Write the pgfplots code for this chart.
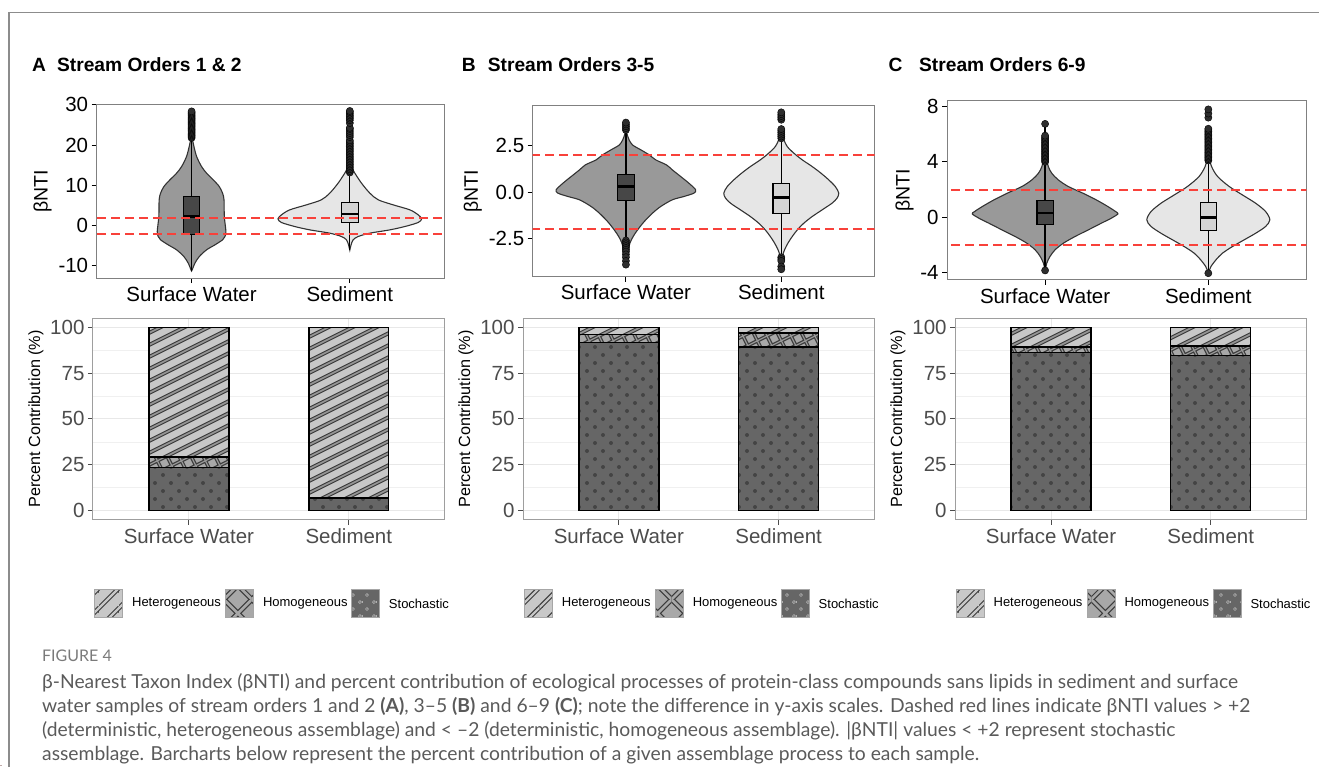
\documentclass[border=0pt]{standalone}
\usepackage{fontspec}
\setmainfont{Liberation Sans}
\newfontfamily\capfont{Lato}
\usepackage{pgfplots}
\pgfplotsset{compat=1.18}
\usepackage{pgfplotstable}
\usetikzlibrary{patterns}

\definecolor{vsw}{HTML}{999999}
\definecolor{vsed}{HTML}{E6E6E6}
\definecolor{bsw}{HTML}{474747}
\definecolor{bsed}{HTML}{D4D4D4}
\definecolor{hetfill}{HTML}{C8C8C8}
\definecolor{hetdark}{HTML}{3C3C3C}
\definecolor{hetstripe}{HTML}{959595}
\definecolor{homfill}{HTML}{A8A8A8}
\definecolor{stofill}{HTML}{666666}
\definecolor{dotc}{HTML}{444444}
\definecolor{redl}{RGB}{248,65,58}
\definecolor{capgray}{HTML}{5A5A5A}
\definecolor{figgray}{HTML}{7A7A7A}
\definecolor{framegray}{HTML}{8C8C8C}
\definecolor{outc}{HTML}{2E2E2E}

% ---- inherently coloured patterns (background included)
\pgfdeclarepatterninherentlycolored{hetpat}
 {\pgfpointorigin}{\pgfqpoint{24pt}{12pt}}{\pgfqpoint{24pt}{12pt}}
 {\pgfsetfillcolor{hetfill}
  \pgfpathrectangle{\pgfqpoint{-1pt}{-1pt}}{\pgfqpoint{26pt}{14pt}}\pgfusepath{fill}
  \pgfsetlinewidth{4pt}\pgfsetstrokecolor{hetdark}
  \pgfpathmoveto{\pgfqpoint{-2pt}{-13pt}}\pgfpathlineto{\pgfqpoint{26pt}{1pt}}
  \pgfpathmoveto{\pgfqpoint{-2pt}{-1pt}}\pgfpathlineto{\pgfqpoint{26pt}{13pt}}
  \pgfpathmoveto{\pgfqpoint{-2pt}{11pt}}\pgfpathlineto{\pgfqpoint{26pt}{25pt}}
  \pgfusepath{stroke}
  \pgfsetlinewidth{1.6pt}\pgfsetstrokecolor{hetstripe}
  \pgfpathmoveto{\pgfqpoint{-2pt}{-13pt}}\pgfpathlineto{\pgfqpoint{26pt}{1pt}}
  \pgfpathmoveto{\pgfqpoint{-2pt}{-1pt}}\pgfpathlineto{\pgfqpoint{26pt}{13pt}}
  \pgfpathmoveto{\pgfqpoint{-2pt}{11pt}}\pgfpathlineto{\pgfqpoint{26pt}{25pt}}
  \pgfusepath{stroke}}
\pgfdeclarepatterninherentlycolored{hompat}
 {\pgfpointorigin}{\pgfqpoint{24pt}{24pt}}{\pgfqpoint{24pt}{24pt}}
 {\pgfsetfillcolor{homfill}
  \pgfpathrectangle{\pgfqpoint{-1pt}{-1pt}}{\pgfqpoint{26pt}{26pt}}\pgfusepath{fill}
  \pgfsetlinewidth{3.6pt}\pgfsetstrokecolor{hetdark}
  \pgfpathmoveto{\pgfqpoint{-2pt}{-13pt}}\pgfpathlineto{\pgfqpoint{26pt}{1pt}}
  \pgfpathmoveto{\pgfqpoint{-2pt}{-1pt}}\pgfpathlineto{\pgfqpoint{26pt}{13pt}}
  \pgfpathmoveto{\pgfqpoint{-2pt}{11pt}}\pgfpathlineto{\pgfqpoint{26pt}{25pt}}
  \pgfpathmoveto{\pgfqpoint{-2pt}{23pt}}\pgfpathlineto{\pgfqpoint{26pt}{37pt}}
  \pgfpathmoveto{\pgfqpoint{1pt}{-2pt}}\pgfpathlineto{\pgfqpoint{-13pt}{26pt}}
  \pgfpathmoveto{\pgfqpoint{13pt}{-2pt}}\pgfpathlineto{\pgfqpoint{-1pt}{26pt}}
  \pgfpathmoveto{\pgfqpoint{25pt}{-2pt}}\pgfpathlineto{\pgfqpoint{11pt}{26pt}}
  \pgfpathmoveto{\pgfqpoint{37pt}{-2pt}}\pgfpathlineto{\pgfqpoint{23pt}{26pt}}
  \pgfusepath{stroke}
  \pgfsetlinewidth{1.3pt}\pgfsetstrokecolor{hetstripe}
  \pgfpathmoveto{\pgfqpoint{-2pt}{-13pt}}\pgfpathlineto{\pgfqpoint{26pt}{1pt}}
  \pgfpathmoveto{\pgfqpoint{-2pt}{-1pt}}\pgfpathlineto{\pgfqpoint{26pt}{13pt}}
  \pgfpathmoveto{\pgfqpoint{-2pt}{11pt}}\pgfpathlineto{\pgfqpoint{26pt}{25pt}}
  \pgfpathmoveto{\pgfqpoint{-2pt}{23pt}}\pgfpathlineto{\pgfqpoint{26pt}{37pt}}
  \pgfpathmoveto{\pgfqpoint{1pt}{-2pt}}\pgfpathlineto{\pgfqpoint{-13pt}{26pt}}
  \pgfpathmoveto{\pgfqpoint{13pt}{-2pt}}\pgfpathlineto{\pgfqpoint{-1pt}{26pt}}
  \pgfpathmoveto{\pgfqpoint{25pt}{-2pt}}\pgfpathlineto{\pgfqpoint{11pt}{26pt}}
  \pgfpathmoveto{\pgfqpoint{37pt}{-2pt}}\pgfpathlineto{\pgfqpoint{23pt}{26pt}}
  \pgfusepath{stroke}}
\pgfdeclarepatterninherentlycolored{stopat}
 {\pgfpointorigin}{\pgfqpoint{16pt}{16pt}}{\pgfqpoint{16pt}{16pt}}
 {\pgfsetfillcolor{stofill}
  \pgfpathrectangle{\pgfqpoint{-1pt}{-1pt}}{\pgfqpoint{18pt}{18pt}}\pgfusepath{fill}
  \pgfsetfillcolor{dotc}
  \pgfpathcircle{\pgfqpoint{4pt}{5pt}}{2pt}
  \pgfpathcircle{\pgfqpoint{12pt}{13pt}}{2pt}
  \pgfusepath{fill}}
% red dashes (filled through a thin band)
\pgfdeclarepatterninherentlycolored{reddash}
 {\pgfpointorigin}{\pgfqpoint{14pt}{14pt}}{\pgfqpoint{14pt}{14pt}}
 {\pgfsetfillcolor{redl}
  \pgfpathrectangle{\pgfqpoint{0pt}{0pt}}{\pgfqpoint{9pt}{14pt}}\pgfusepath{fill}}
% legend keys
\pgfdeclarepatterninherentlycolored{hetkey}
 {\pgfpointorigin}{\pgfqpoint{20pt}{20pt}}{\pgfqpoint{20pt}{20pt}}
 {\pgfsetlinewidth{4.4pt}\pgfsetstrokecolor{hetdark}
  \pgfpathmoveto{\pgfqpoint{-2pt}{-22pt}}\pgfpathlineto{\pgfqpoint{22pt}{2pt}}
  \pgfpathmoveto{\pgfqpoint{-2pt}{-2pt}}\pgfpathlineto{\pgfqpoint{22pt}{22pt}}
  \pgfpathmoveto{\pgfqpoint{-2pt}{18pt}}\pgfpathlineto{\pgfqpoint{22pt}{42pt}}
  \pgfusepath{stroke}
  \pgfsetlinewidth{2.2pt}\pgfsetstrokecolor{hetfill}
  \pgfpathmoveto{\pgfqpoint{-2pt}{-22pt}}\pgfpathlineto{\pgfqpoint{22pt}{2pt}}
  \pgfpathmoveto{\pgfqpoint{-2pt}{-2pt}}\pgfpathlineto{\pgfqpoint{22pt}{22pt}}
  \pgfpathmoveto{\pgfqpoint{-2pt}{18pt}}\pgfpathlineto{\pgfqpoint{22pt}{42pt}}
  \pgfusepath{stroke}}
\pgfdeclarepatterninherentlycolored{homkey}
 {\pgfpointorigin}{\pgfqpoint{28pt}{28pt}}{\pgfqpoint{28pt}{28pt}}
 {\pgfsetlinewidth{5pt}\pgfsetstrokecolor{hetdark}
  \pgfpathmoveto{\pgfqpoint{-2pt}{-2pt}}\pgfpathlineto{\pgfqpoint{30pt}{30pt}}
  \pgfpathmoveto{\pgfqpoint{-2pt}{30pt}}\pgfpathlineto{\pgfqpoint{30pt}{-2pt}}
  \pgfusepath{stroke}
  \pgfsetlinewidth{2.6pt}\pgfsetstrokecolor{homfill}
  \pgfpathmoveto{\pgfqpoint{-2pt}{-2pt}}\pgfpathlineto{\pgfqpoint{30pt}{30pt}}
  \pgfpathmoveto{\pgfqpoint{-2pt}{30pt}}\pgfpathlineto{\pgfqpoint{30pt}{-2pt}}
  \pgfusepath{stroke}}
\pgfdeclarepatterninherentlycolored{stokey}
 {\pgfpointorigin}{\pgfqpoint{14pt}{14pt}}{\pgfqpoint{14pt}{14pt}}
 {\pgfsetlinewidth{0.7pt}\pgfsetstrokecolor{black!30}
  \pgfpathcircle{\pgfqpoint{4pt}{5pt}}{1.5pt}
  \pgfpathcircle{\pgfqpoint{11pt}{12pt}}{1.5pt}
  \pgfusepath{stroke}}

% violin outlines, closed: y value, signed half width (axis units)
\pgfplotstableread{
y w
-11.3 0
-10.99 0.004
-9.34 0.021
-7.68 0.049
-6.02 0.095
-4.78 0.148
-3.54 0.196
-2.71 0.211
-1.47 0.217
2.26 0.207
6.40 0.205
8.05 0.196
9.71 0.175
11.37 0.137
13.02 0.095
14.68 0.063
17.16 0.032
19.65 0.015
21.30 0.006
21.6 0
21.30 -0.006
19.65 -0.015
17.16 -0.032
14.68 -0.063
13.02 -0.095
11.37 -0.137
9.71 -0.175
8.05 -0.196
6.40 -0.205
2.26 -0.207
-1.47 -0.217
-2.71 -0.211
-3.54 -0.196
-4.78 -0.148
-6.02 -0.095
-7.68 -0.049
-9.34 -0.021
-10.99 -0.004
}\vAsw
\pgfplotstableread{
y w
-6.1 0
-4.78 0.008
-3.54 0.021
-2.71 0.053
-1.88 0.127
-1.06 0.253
-0.23 0.348
0.77 0.432
1.68 0.454
2.67 0.432
3.91 0.38
5.16 0.274
6.40 0.18
8.05 0.127
10.54 0.074
13.02 0.032
15.0 0
13.02 -0.032
10.54 -0.074
8.05 -0.127
6.40 -0.18
5.16 -0.274
3.91 -0.38
2.67 -0.432
1.68 -0.454
0.77 -0.432
-0.23 -0.348
-1.06 -0.253
-1.88 -0.127
-2.71 -0.053
-3.54 -0.021
-4.78 -0.008
}\vAsed
\pgfplotstableread{
y w
-3.9 0
-3.82 0.002
-3.28 0.011
-2.74 0.026
-2.38 0.047
-2.03 0.075
-1.58 0.118
-1.13 0.171
-0.77 0.224
-0.41 0.299
-0.23 0.374
-0.05 0.438
0.13 0.449
0.48 0.406
0.84 0.353
1.20 0.299
1.47 0.261
1.74 0.192
2.01 0.15
2.28 0.096
2.54 0.043
2.81 0.021
3.08 0.009
3.3 0
3.08 -0.009
2.81 -0.021
2.54 -0.043
2.28 -0.096
2.01 -0.15
1.74 -0.192
1.47 -0.261
1.20 -0.299
0.84 -0.353
0.48 -0.406
0.13 -0.449
-0.05 -0.438
-0.23 -0.374
-0.41 -0.299
-0.77 -0.224
-1.13 -0.171
-1.58 -0.118
-2.03 -0.075
-2.38 -0.047
-2.74 -0.026
-3.28 -0.011
-3.82 -0.002
}\vBsw
\pgfplotstableread{
y w
-3.64 0
-3.46 0.006
-3.10 0.021
-2.74 0.043
-2.38 0.071
-2.03 0.103
-1.67 0.145
-1.31 0.199
-0.95 0.263
-0.59 0.327
-0.32 0.359
-0.05 0.37
0.30 0.348
0.66 0.306
1.02 0.256
1.38 0.199
1.74 0.135
2.10 0.081
2.46 0.038
2.81 0.017
3.17 0
2.81 -0.017
2.46 -0.038
2.10 -0.081
1.74 -0.135
1.38 -0.199
1.02 -0.256
0.66 -0.306
0.30 -0.348
-0.05 -0.37
-0.32 -0.359
-0.59 -0.327
-0.95 -0.263
-1.31 -0.199
-1.67 -0.145
-2.03 -0.103
-2.38 -0.071
-2.74 -0.043
-3.10 -0.021
-3.46 -0.006
}\vBsed
\pgfplotstableread{
y w
-3.9 0
-3.81 0.002
-3.33 0.01
-2.84 0.03
-2.36 0.061
-1.88 0.112
-1.40 0.183
-0.92 0.264
-0.43 0.345
-0.07 0.406
0.24 0.446
0.41 0.432
0.77 0.385
1.25 0.314
1.73 0.233
2.22 0.142
2.70 0.081
3.18 0.041
3.66 0.02
4.39 0.008
5.59 0.004
6.67 0
5.59 -0.004
4.39 -0.008
3.66 -0.02
3.18 -0.041
2.70 -0.081
2.22 -0.142
1.73 -0.233
1.25 -0.314
0.77 -0.385
0.41 -0.432
0.24 -0.446
-0.07 -0.406
-0.43 -0.345
-0.92 -0.264
-1.40 -0.183
-1.88 -0.112
-2.36 -0.061
-2.84 -0.03
-3.33 -0.01
-3.81 -0.002
}\vCsw
\pgfplotstableread{
y w
-4.0 0
-3.93 0.004
-3.57 0.016
-3.08 0.047
-2.60 0.087
-2.12 0.148
-1.64 0.219
-1.16 0.29
-0.67 0.351
-0.19 0.377
0.41 0.351
1.01 0.29
1.61 0.209
2.22 0.128
2.94 0.057
3.66 0.02
4.39 0.004
4.87 0
4.39 -0.004
3.66 -0.02
2.94 -0.057
2.22 -0.128
1.61 -0.209
1.01 -0.29
0.41 -0.351
-0.19 -0.377
-0.67 -0.351
-1.16 -0.29
-1.64 -0.219
-2.12 -0.148
-2.60 -0.087
-3.08 -0.047
-3.57 -0.016
-3.93 -0.004
}\vCsed

\pgfplotsset{
  violinax/.style={scale only axis, xmin=0.4, xmax=2.6, xtick={1,2},
    xticklabels={Surface Water, Sediment}, tick align=outside,
    xtick pos=lower, ytick pos=left, major tick length=5pt,
    axis line style={draw=black!50, line width=1pt},
    tick style={black, line width=1pt},
    ticklabel style={font=\fontsize{20.5}{24}\selectfont, text=black},
    ylabel={βNTI}, ylabel style={font=\fontsize{19.5}{23}\selectfont, text=black}},
  barax/.style={scale only axis, xmin=0.4, xmax=2.6, ymin=-5, ymax=105,
    xtick={1,2}, xticklabels={Surface Water, Sediment},
    ytick={0,25,50,75,100}, yticklabels={0,25,50,75,100},
    minor ytick={12.5,37.5,62.5,87.5}, minor tick length=0pt,
    ymajorgrids, xmajorgrids, yminorgrids,
    major grid style={draw=black!9, line width=1pt},
    minor grid style={draw=black!6, line width=0.6pt},
    tick align=outside, xtick pos=lower, ytick pos=left, major tick length=5pt,
    axis line style={draw=black!38, line width=1pt},
    tick style={black!70, line width=1pt},
    ticklabel style={font=\fontsize{20.5}{24}\selectfont, text=black!70},
    ylabel={Percent Contribution (\%)},
    ylabel style={font=\fontsize{16.2}{19}\selectfont, text=black},
    ybar stacked, bar width=0.5},
  stoS/.style={pattern=stopat, draw=black, line width=1.4pt},
  homS/.style={pattern=hompat, draw=black, line width=1.4pt},
  hetS/.style={pattern=hetpat, draw=black, line width=1.4pt},
  outl/.style={only marks, mark=*, mark size=3.6pt,
    mark options={fill=outc, draw=none}},
  redd/.style={draw=none, pattern=reddash},
  vout/.style={draw=black!80, line width=1.1pt, smooth},
}

\begin{document}
\begin{tikzpicture}[x=1pt,y=1pt]
\path (0,0) rectangle (1320,767);
% instantiate patterns at top level
\path[pattern=hetpat] (1,1) rectangle (1.2,1.2);
\path[pattern=hompat] (1,1) rectangle (1.2,1.2);
\path[pattern=stopat] (1,1) rectangle (1.2,1.2);
\path[pattern=reddash] (1,1) rectangle (1.2,1.2);
\draw[framegray, line width=1.5pt] (9,0) -- (9,754.5) -- (1320,754.5);

% titles
\node[anchor=base west, inner sep=0, font=\fontsize{19.2}{22}\selectfont\bfseries] at (32,695) {A};
\node[anchor=base west, inner sep=0, font=\fontsize{19.2}{22}\selectfont\bfseries] at (57,695) {Stream Orders 1 \& 2};
\node[anchor=base west, inner sep=0, font=\fontsize{19.2}{22}\selectfont\bfseries] at (462,695) {B};
\node[anchor=base west, inner sep=0, font=\fontsize{19.2}{22}\selectfont\bfseries] at (488,695) {Stream Orders 3-5};
\node[anchor=base west, inner sep=0, font=\fontsize{19.2}{22}\selectfont\bfseries] at (889,695) {C};
\node[anchor=base west, inner sep=0, font=\fontsize{19.2}{22}\selectfont\bfseries] at (919.5,695) {Stream Orders 6-9};

% ---------- violin A
\begin{axis}[violinax, at={(96.7pt,662.7pt)}, anchor=north west, width=348.3pt, height=174pt,
  ymin=-13.06, ymax=30.17, ytick={-10,0,10,20,30}, yticklabels={-10,0,10,20,30}]
\addplot[fill=vsw, vout] table[x expr=1+\thisrow{w}, y=y] {\vAsw} -- cycle;
\addplot[fill=vsed, vout] table[x expr=2+\thisrow{w}, y=y] {\vAsed} -- cycle;
\addplot[black, line width=1.3pt] coordinates {(1,-11.2) (1,21.3)};
\addplot[black, line width=1.3pt] coordinates {(2,-6.0) (2,13.0)};
\addplot[fill=bsw, draw=black, line width=1.2pt] coordinates {(0.95,-2.3) (1.05,-2.3) (1.05,7.23) (0.95,7.23)} -- cycle;
\addplot[fill=bsed, draw=black, line width=1.2pt] coordinates {(1.947,0.85) (2.053,0.85) (2.053,5.82) (1.947,5.82)} -- cycle;
\addplot[black, line width=2.6pt] coordinates {(0.95,2.26) (1.05,2.26)};
\addplot[black, line width=2.6pt] coordinates {(1.947,2.92) (2.053,2.92)};
\addplot[outl] coordinates {(1,21.8)(1,22.1)(1,22.4)(1,22.7)(1,23.0)(1,23.3)(1,23.6)(1,23.9)(1,24.2)(1,24.5)(1,24.8)(1,25.1)(1,25.4)(1,25.7)(1,26.0)(1,26.3)(1,26.6)(1,26.9)(1,27.2)(1,27.5)(1,27.8)(1,28.1)(1,28.4)};
\addplot[outl] coordinates {(2,13.2)(2,13.6)(2,14.0)(2,14.4)(2,14.8)(2,15.2)(2,15.6)(2,16.0)(2,16.4)(2,16.8)(2,17.2)(2,17.6)(2,18.0)(2,18.4)(2,18.8)(2,19.2)(2,19.6)(2,20.0)(2,20.4)(2,20.8)(2,21.2)(2,22.0)(2,22.5)(2,23.0)(2,23.5)(2,24.0)(2,24.3)(2,25.5)(2,26.2)(2,26.6)(2,27.0)(2,27.4)(2,27.8)(2,28.2)(2,28.5)};
% dashed reference lines at +2 and -2 (bands 1 pt thick)
\addplot[redd] coordinates {(0.4,1.876) (2.6,1.876) (2.6,2.124) (0.4,2.124)} -- cycle;
\addplot[redd] coordinates {(0.4,-2.124) (2.6,-2.124) (2.6,-1.876) (0.4,-1.876)} -- cycle;
\end{axis}

% ---------- violin B
\begin{axis}[violinax, at={(533pt,661.3pt)}, anchor=north west, width=342pt, height=171pt,
  ymin=-4.54, ymax=4.66, ytick={-2.5,0,2.5}, yticklabels={-2.5,0.0,2.5}]
\addplot[fill=vsw, vout] table[x expr=1+\thisrow{w}, y=y] {\vBsw} -- cycle;
\addplot[fill=vsed, vout] table[x expr=2+\thisrow{w}, y=y] {\vBsed} -- cycle;
\addplot[black, line width=1.3pt] coordinates {(1,-2.55) (1,3.2)};
\addplot[black, line width=1.3pt] coordinates {(2,-3.45) (2,2.85)};
\addplot[fill=bsw, draw=black, line width=1.2pt] coordinates {(0.947,-0.43) (1.053,-0.43) (1.053,0.97) (0.947,0.97)} -- cycle;
\addplot[fill=bsed, draw=black, line width=1.2pt] coordinates {(1.947,-1.13) (2.053,-1.13) (2.053,0.45) (1.947,0.45)} -- cycle;
\addplot[black, line width=2.6pt] coordinates {(0.947,0.30) (1.053,0.30)};
\addplot[black, line width=2.6pt] coordinates {(1.947,-0.29) (2.053,-0.29)};
\addplot[outl] coordinates {(1,3.35)(1,3.45)(1,3.55)(1,3.65)(1,3.75)(1,-2.6)(1,-2.7)(1,-2.8)(1,-2.9)(1,-3.0)(1,-3.1)(1,-3.2)(1,-3.35)(1,-3.5)(1,-3.7)(1,-3.9)};
\addplot[outl] coordinates {(2,2.9)(2,3.0)(2,3.1)(2,3.2)(2,3.3)(2,3.4)(2,3.9)(2,4.0)(2,4.1)(2,4.2)(2,4.3)(2,-3.5)(2,-3.6)(2,-3.7)(2,-4.0)(2,-4.15)};
\addplot[redd] coordinates {(0.4,1.973) (2.6,1.973) (2.6,2.027) (0.4,2.027)} -- cycle;
\addplot[redd] coordinates {(0.4,-2.027) (2.6,-2.027) (2.6,-1.973) (0.4,-1.973)} -- cycle;
\end{axis}

% ---------- violin C
\begin{axis}[violinax, at={(947.7pt,666pt)}, anchor=north west, width=359.3pt, height=179pt,
  ymin=-4.53, ymax=8.41, ytick={-4,0,4,8}, yticklabels={-4,0,4,8}]
\addplot[fill=vsw, vout] table[x expr=1+\thisrow{w}, y=y] {\vCsw} -- cycle;
\addplot[fill=vsed, vout] table[x expr=2+\thisrow{w}, y=y] {\vCsed} -- cycle;
\addplot[black, line width=1.3pt] coordinates {(1,-3.85) (1,6.75)};
\addplot[black, line width=1.3pt] coordinates {(2,-4.05) (2,6.4)};
\addplot[fill=bsw, draw=black, line width=1.2pt] coordinates {(0.95,-0.55) (1.05,-0.55) (1.05,1.2) (0.95,1.2)} -- cycle;
\addplot[fill=bsed, draw=black, line width=1.2pt] coordinates {(1.95,-0.96) (2.05,-0.96) (2.05,1.06) (1.95,1.06)} -- cycle;
\addplot[black, line width=2.6pt] coordinates {(0.95,0.31) (1.05,0.31)};
\addplot[black, line width=2.6pt] coordinates {(1.95,0) (2.05,0)};
\addplot[outl] coordinates {(1,4.0)(1,4.1)(1,4.2)(1,4.3)(1,4.4)(1,4.5)(1,4.6)(1,4.7)(1,4.8)(1,4.9)(1,5.0)(1,5.1)(1,5.2)(1,5.3)(1,5.4)(1,5.5)(1,5.6)(1,5.7)(1,5.8)(1,5.9)(1,6.75)(1,-3.85)};
\addplot[outl] coordinates {(2,4.1)(2,4.2)(2,4.3)(2,4.4)(2,4.5)(2,4.6)(2,4.7)(2,4.8)(2,4.9)(2,5.0)(2,5.1)(2,5.2)(2,5.3)(2,5.4)(2,5.5)(2,5.6)(2,5.7)(2,5.8)(2,5.9)(2,6.0)(2,6.1)(2,6.2)(2,6.3)(2,6.4)(2,7.2)(2,7.5)(2,7.8)(2,-4.05)};
\addplot[redd] coordinates {(0.4,1.964) (2.6,1.964) (2.6,2.036) (0.4,2.036)} -- cycle;
\addplot[redd] coordinates {(0.4,-2.036) (2.6,-2.036) (2.6,-1.964) (0.4,-1.964)} -- cycle;
\end{axis}

% ---------- bars
\begin{axis}[barax, at={(93pt,448.7pt)}, anchor=north west, width=352pt, height=201.7pt]
\addplot[stoS] coordinates {(1,23.6) (2,6.9)};
\addplot[homS] coordinates {(1,5.6) (2,0.3)};
\addplot[hetS] coordinates {(1,70.8) (2,92.8)};
\end{axis}
\begin{axis}[barax, at={(523.3pt,448.7pt)}, anchor=north west, width=351.7pt, height=201.7pt]
\addplot[stoS] coordinates {(1,91.8) (2,89.3)};
\addplot[homS] coordinates {(1,4.4) (2,7.6)};
\addplot[hetS] coordinates {(1,3.8) (2,3.1)};
\end{axis}
\begin{axis}[barax, at={(955.7pt,448.7pt)}, anchor=north west, width=351.6pt, height=201.7pt]
\addplot[stoS] coordinates {(1,86.2) (2,84.6)};
\addplot[homS] coordinates {(1,3.1) (2,5.1)};
\addplot[hetS] coordinates {(1,10.7) (2,10.3)};
\end{axis}

% ---------- legends
\foreach \dx in {0,430,862} {
  \path[fill=hetfill, postaction={pattern=hetkey}, postaction={draw=black!35, line width=1pt}]
    (95+\dx,149) rectangle ++(28,28);
  \node[anchor=west, inner sep=0, font=\fontsize{13}{15}\selectfont] at (132+\dx,163) {Heterogeneous};
  \path[fill=homfill, postaction={pattern=homkey}, postaction={draw=black!35, line width=1pt}]
    (226+\dx,149) rectangle ++(28,28);
  \node[anchor=west, inner sep=0, font=\fontsize{13}{15}\selectfont] at (263+\dx,163) {Homogeneous};
  \path[fill=stofill, postaction={pattern=stokey}, postaction={draw=black!35, line width=1pt}]
    (352+\dx,149) rectangle ++(28,28);
  \node[anchor=west, inner sep=0, font=\fontsize{13}{15}\selectfont] at (389+\dx,163) {Stochastic};
}

% ---------- caption
\node[anchor=base west, inner sep=0, font=\capfont\fontsize{16}{18}\selectfont, text=figgray] at (42,105) {FIGURE 4};
\begin{scope}[every node/.style={anchor=base west, inner sep=0, font=\capfont\fontsize{19.3}{22}\selectfont, text=capgray}]
\node at (42,78) {β-Nearest Taxon Index (βNTI) and percent contribution of ecological processes of protein-class compounds sans lipids in sediment and surface};
\node at (42,54) {water samples of stream orders 1 and 2 \textbf{(A)}, 3–5 \textbf{(B)} and 6–9 \textbf{(C)}; note the difference in y-axis scales. Dashed red lines indicate βNTI values \textgreater{} +2};
\node at (42,30) {(deterministic, heterogeneous assemblage) and \textless{} –2 (deterministic, homogeneous assemblage). |βNTI| values \textless{} +2 represent stochastic};
\node at (42,6) {assemblage. Barcharts below represent the percent contribution of a given assemblage process to each sample.};
\end{scope}
\end{tikzpicture}
\end{document}
